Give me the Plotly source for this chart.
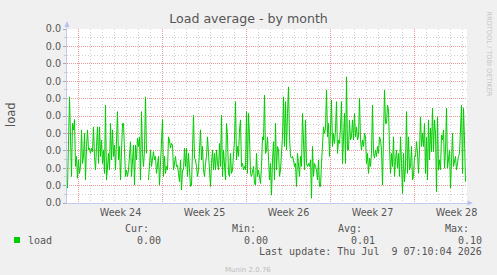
import pandas as pd
import plotly.graph_objects as go

# ---- data (load average, 2-hour samples) ----
load_part1 = [0.0034, 0.0114, 0.0244, 0.0152, 0.0061, 0.0183, 0.0168, 0.0192, 0.0084, 0.0107,
              0.0057, 0.0099, 0.0068, 0.0084, 0.0168, 0.0091, 0.0107, 0.0160, 0.0053, 0.0130,
              0.0168, 0.0122, 0.0126, 0.0114, 0.0126, 0.0118, 0.0175, 0.0107, 0.0076, 0.0130,
              0.0175, 0.0091, 0.0175, 0.0107, 0.0145, 0.0091, 0.0122, 0.0068, 0.0225, 0.0053,
              0.0099, 0.0114, 0.0076, 0.0183, 0.0099, 0.0168, 0.0107, 0.0133, 0.0076, 0.0130,
              0.0210, 0.0099, 0.0130, 0.0053, 0.0152, 0.0183, 0.0183]
load_part2 = [0.0107, 0.0061, 0.0076, 0.0061, 0.0076, 0.0122, 0.0141, 0.0061, 0.0114, 0.0133,
              0.0041, 0.0133, 0.0099, 0.0149, 0.0130, 0.0152, 0.0053, 0.0210, 0.0114, 0.0084,
              0.0122, 0.0244, 0.0114, None, 0.0053, 0.0091, 0.0122, 0.0084, 0.0107, 0.0118,
              0.0099, 0.0107, 0.0068, 0.0084, 0.0107, 0.0041, 0.0099, 0.0126, 0.0192, 0.0061,
              0.0107, 0.0068, 0.0084, 0.0076, 0.0152, 0.0145, 0.0126, 0.0137, 0.0133, 0.0076,
              0.0091, 0.0107, 0.0084, 0.0087, 0.0068, 0.0049, 0.0099, 0.0030, 0.0076]
load_part3 = [0.0076, 0.0126, 0.0084, 0.0126, 0.0061, 0.0114, 0.0076, 0.0038, 0.0041, 0.0114,
              0.0202, 0.0103, 0.0099, 0.0084, 0.0061, 0.0076, 0.0130, 0.0168, 0.0099, 0.0130,
              0.0076, 0.0061, 0.0091, 0.0107, 0.0152, 0.0107, 0.0068, 0.0038, 0.0091, 0.0122,
              0.0076, 0.0114, 0.0076, 0.0122, 0.0091, 0.0076, 0.0137, 0.0084, 0.0202, 0.0061,
              0.0122, 0.0091, 0.0053, 0.0183, 0.0152, 0.0068, 0.0061, 0.0114, 0.0068, 0.0076,
              0.0122, 0.0145, 0.0233, 0.0099, 0.0130, 0.0107, 0.0168, 0.0191]
load_part4 = [0.0084, 0.0091, 0.0076, 0.0084, 0.0076, 0.0210, 0.0068, 0.0206, 0.0152, 0.0068,
              0.0061, 0.0076, 0.0084, 0.0045, 0.0041, 0.0114, 0.0061, 0.0076, 0.0053, 0.0045,
              0.0084, 0.0152, 0.0145, 0.0248, 0.0114, 0.0122, 0.0152, 0.0114, 0.0053, 0.0091,
              0.0018, 0.0099, 0.0141, 0.0053, 0.0183, 0.0076, 0.0130, 0.0122, 0.0061, 0.0076,
              0.0126, 0.0152, 0.0244, 0.0130, 0.0233, 0.0122, 0.0206, 0.0267, 0.0152, 0.0107,
              0.0103, 0.0107, 0.0099, 0.0084, 0.0091, 0.0038, 0.0114, 0.0076]
load_part5 = [0.0061, 0.0107, 0.0084, 0.0206, 0.0107, 0.0076, 0.0191, 0.0091, 0.0084, 0.0091,
              0.0084, 0.0099, 0.0011, 0.0130, 0.0061, 0.0091, 0.0084, 0.0076, 0.0053, 0.0099,
              0.0038, 0.0038, 0.0091, 0.0152, 0.0175, 0.0160, 0.0172, 0.0260, 0.0152, 0.0183,
              0.0107, 0.0168, 0.0237, 0.0130, 0.0160, 0.0137, 0.0168, 0.0233, 0.0114, 0.0145,
              0.0137, 0.0175, 0.0233, 0.0091, 0.0145, 0.0206, 0.0091, 0.0290, 0.0122, 0.0122,
              0.0191, 0.0145, 0.0152, 0.0191, 0.0145, 0.0206, 0.0152, 0.0175]
load_part6 = [0.0145, 0.0152, 0.0241, 0.0145, 0.0122, 0.0145, 0.0130, 0.0160, 0.0152, 0.0091,
              0.0114, 0.0068, 0.0103, 0.0084, 0.0114, 0.0225, 0.0114, 0.0103, 0.0122, 0.0107,
              0.0130, 0.0114, 0.0152, 0.0145, 0.0122, 0.0041, 0.0152, 0.0260, 0.0183, 0.0183,
              0.0225, 0.0214, 0.0130, 0.0068, 0.0114, 0.0084, 0.0152, 0.0061, 0.0099, 0.0122,
              0.0080, 0.0114, 0.0061, 0.0152, 0.0091, 0.0022, 0.0114, 0.0049, 0.0084, 0.0210,
              0.0068, 0.0152, 0.0076, 0.0084, 0.0130, 0.0053, 0.0061, 0.0107]
load_part7 = [0.0107, 0.0141, 0.0114, 0.0068, 0.0122, 0.0198, 0.0130, 0.0160, 0.0130, 0.0183,
              0.0068, 0.0152, 0.0053, 0.0191, 0.0099, 0.0172, 0.0118, 0.0218, 0.0118, 0.0191,
              0.0160, 0.0026, 0.0198, 0.0076, 0.0099, 0.0076, 0.0156, 0.0145, 0.0168, 0.0080,
              0.0122, 0.0218, 0.0080, 0.0099, 0.0122, 0.0034, 0.0130, 0.0160, 0.0084, 0.0095,
              0.0107, 0.0076, 0.0099, 0.0107, 0.0114, 0.0183, 0.0225, 0.0068, 0.0218, 0.0145,
              0.0049]

first_sample = "2026-06-07 02:00"
sample_step = "2h"
range_start = "2026-06-07 01:00"
range_end = "2026-07-10 09:00"
week_tick0 = "2026-06-08"

legend_heads = ["Cur:", "Min:", "Avg:", "Max:"]
legend_values = ["0.00", "0.00", "0.01", "0.10"]
last_update = "Last update: Thu Jul \u00a09 07:10:04 2026"

load = load_part1 + load_part2 + load_part3 + load_part4 + load_part5 + load_part6 + load_part7
times = pd.date_range(first_sample, periods=len(load), freq=sample_step)

# ---- geometry helpers (pixel -> paper) ----
L, R, T, B = 67, 467, 29, 203
W, H = 497, 275
def xp(px):
    return (px - L) / (R - L)
def yp(py):
    return (B - py) / (B - T)

TXT = "#555555"
MONO = "DejaVu Sans Mono"
AXC = "#c3c9ef"

fig = go.Figure()
fig.add_trace(go.Scatter(x=times, y=load, mode="lines",
                         line=dict(color="#00cc00", width=1), showlegend=False,
                         hoverinfo="skip"))

fig.update_layout(
    width=W, height=H,
    margin=dict(l=L, r=W - R, t=T, b=H - B, pad=0),
    paper_bgcolor="#f0f0f0", plot_bgcolor="#ffffff",
    font=dict(family="DejaVu Sans", color=TXT, size=10),
    title=dict(text="Load average - by month", x=0.5, xref="container",
               y=1 - 19 / H, yref="container", xanchor="center", yanchor="middle",
               font=dict(size=12.6, color="#555555", family="DejaVu Sans")),
    showlegend=False,
)

fig.update_xaxes(
    type="date", range=[range_start, range_end],
    tick0=week_tick0, dtick=7 * 86400000, ticklabelmode="period",
    tickformat="Week %V", tickfont=dict(size=9.6, color=TXT),
    showgrid=True, gridcolor="rgba(230,120,120,0.75)", griddash="1px,1px", gridwidth=1,
    ticks="", showline=True, linecolor=AXC, linewidth=1, zeroline=False,
    minor=dict(dtick=86400000, tick0=week_tick0, showgrid=True,
               gridcolor="#cfcfcf", griddash="1px,2px", gridwidth=1),
)
fig.update_yaxes(
    range=[0, 0.04], tick0=0, dtick=0.004, tickformat=".1f",
    tickfont=dict(size=9.6, color=TXT),
    showgrid=True, gridcolor="rgba(230,120,120,0.75)", griddash="1px,1px", gridwidth=1,
    ticks="outside", ticklen=3, tickcolor="#aaaaaa",
    showline=True, linecolor=AXC, linewidth=1, zeroline=False,
    minor=dict(dtick=0.002, showgrid=True, gridcolor="#cfcfcf", griddash="1px,2px",
               gridwidth=1, ticks="outside", ticklen=2, tickcolor="#cccccc"),
)

shapes = [
    # y axis extension + arrow
    dict(type="line", xref="paper", yref="paper", x0=0, x1=0, y0=1, y1=yp(26),
         line=dict(color=AXC, width=1)),
    dict(type="path", xref="paper", yref="paper",
         path=f"M {xp(64.5)},{yp(27)} L {xp(67)},{yp(21)} L {xp(69.5)},{yp(27)} Z",
         fillcolor="#b8c0f0", line=dict(width=0)),
    # x axis extension + arrow
    dict(type="line", xref="paper", yref="paper", x0=1, x1=xp(468), y0=0, y1=0,
         line=dict(color=AXC, width=1)),
    dict(type="path", xref="paper", yref="paper",
         path=f"M {xp(467.5)},{yp(200.5)} L {xp(473)},{yp(203)} L {xp(467.5)},{yp(205.5)} Z",
         fillcolor="#b8c0f0", line=dict(width=0)),
    # legend swatch
    dict(type="rect", xref="paper", yref="paper", x0=xp(14), x1=xp(20),
         y0=yp(243), y1=yp(237), fillcolor="#00cc00", line=dict(width=0)),
]

ann = []
def add_text(text, px, py, anchor="left", size=10, color=TXT, family=MONO, angle=0):
    ann.append(dict(text=text, x=xp(px), y=yp(py), xref="paper", yref="paper",
                    xanchor=anchor, yanchor="middle", showarrow=False, textangle=angle,
                    borderpad=0, font=dict(size=size, color=color, family=family)))

add_text("load", 10.5, 114.5, anchor="center", size=11.5, family="DejaVu Sans", angle=-90)
add_text("RRDTOOL / TOBI OETIKER", 488, 53.5, anchor="center", size=6.6,
         color="#c4c4c4", family="DejaVu Sans", angle=90)
add_text("load", 26.7, 240)
head_right = [150, 257, 363.3, 470]
val_right = [162.3, 269.3, 376, 482.7]
for h, hx in zip(legend_heads, head_right):
    add_text(h, hx, 228, anchor="right")
for v, vx in zip(legend_values, val_right):
    add_text(v, vx, 240, anchor="right")
add_text(last_update, 482.7, 251.7, anchor="right")
add_text("Munin 2.0.76", 248, 270, anchor="center", size=7, color="#bdbdbd",
         family="DejaVu Sans")

fig.update_layout(shapes=shapes, annotations=ann)
fig.write_html("out.html")
